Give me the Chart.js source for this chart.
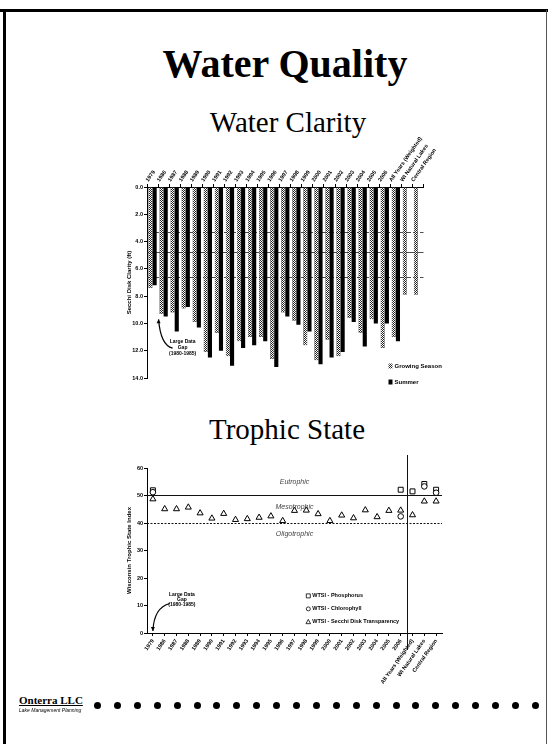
<!DOCTYPE html>
<html><head><meta charset="utf-8">
<script src="https://cdn.jsdelivr.net/npm/chart.js@4.4.1/dist/chart.umd.min.js"></script>
<style>
html,body{margin:0;padding:0;background:#fff;width:557px;height:744px;overflow:hidden;}
body{position:relative;font-family:"Liberation Serif",serif;color:#000}
.abs{position:absolute}
.title{position:absolute;text-align:center;white-space:nowrap}
canvas{position:absolute}
.dot{position:absolute;width:7px;height:7px;border-radius:50%;background:#000}
</style></head><body>
<div class="abs" style="left:3px;top:9px;width:3px;height:735px;background:#000"></div>
<div class="abs" style="left:0;top:9px;width:548px;height:3px;background:#000"></div>
<div class="abs" style="left:546px;top:10px;width:1px;height:734px;background:#555"></div>

<div class="title" style="left:135px;top:44px;width:300px;font:bold 40px/40px 'Liberation Serif',serif">Water Quality</div>
<div class="title" style="left:138px;top:108px;width:300px;font:29px/29px 'Liberation Serif',serif">Water Clarity</div>
<div class="title" style="left:137px;top:415px;width:300px;font:29px/29px 'Liberation Serif',serif">Trophic State</div>

<canvas id="clarity" width="332" height="270" style="left:126px;top:120px"></canvas>
<canvas id="trophic" width="340" height="270" style="left:126px;top:450px"></canvas>

<div class="abs" style="left:19px;top:694px;font:bold 11px/12px 'Liberation Serif',serif;text-decoration:underline">Onterra LLC</div>
<div class="abs" style="left:19px;top:707px;font:italic 5px/6px 'Liberation Sans',sans-serif">Lake Management Planning</div>
<div id="dots"></div>

<script>
// ---------- DATA ----------
const categories = ['1979','1986','1987','1988','1989','1990','1991','1992','1993','1994','1995','1996','1997','1998','1999','2000','2001','2002','2003','2004','2005','2006','All Years (Weighted)','WI Natural Lakes','Central Region'];
const growingSeasonSecchi = [7.4,9.3,9.2,8.9,9.9,12.1,10.7,12.4,11.3,11.0,11.0,12.6,9.2,9.8,11.6,12.7,11.2,12.4,9.6,10.7,9.7,11.8,11.0,7.9,7.9];
const summerSecchi = [7.2,9.5,10.6,8.8,10.3,12.5,12.0,13.1,11.8,11.6,11.3,13.2,9.5,10.1,10.6,13.0,12.5,12.1,9.9,11.7,10.0,10.0,11.3,null,null];
const secchiReferenceLines = [3.3,4.8,6.6];
const secchiTicks = [0,2,4,6,8,10,12,14];

const tsiPhosphorus = [51.9,null,null,null,null,null,null,null,null,null,null,null,null,null,null,null,null,null,null,null,null,52.1,51.5,54.2,52.1];
const tsiChlorophyll = [51.2,null,null,null,null,null,null,null,null,null,null,null,null,null,null,null,null,null,null,null,null,42.4,null,53.3,51.0];
const tsiSecchi = [48.7,45.1,45.1,45.7,43.6,41.7,43.4,41.2,41.5,42.0,42.5,40.8,44.5,44.6,43.3,40.8,42.8,41.8,44.7,42.2,44.5,44.6,42.9,47.9,47.9];
const tsiTicks = [0,10,20,30,40,50,60];
const trophicLines = [50,40];
const trophicLabels = ['Eutrophic','Mesotrophic','Oligotrophic'];
const summaryStartIndex = 22;

// ---------- decorations ----------
(function(){const d=document.getElementById('dots');for(let i=0;i<23;i++){const e=document.createElement('div');e.className='dot';e.style.left=(94+i*19.9)+'px';e.style.top='702px';d.appendChild(e);}})();

Chart.defaults.font.family="'Liberation Sans', Arial, sans-serif";
Chart.defaults.color='#000';
Chart.defaults.animation=false;

function hatchPattern(){
  const c=document.createElement('canvas');c.width=2;c.height=2;
  const x=c.getContext('2d');x.fillStyle='#fff';x.fillRect(0,0,2,2);
  x.fillStyle='#222';x.fillRect(0,0,1,1);x.fillRect(1,1,1,1);
  return x.createPattern(c,'repeat');
}
const hatch=hatchPattern();
function zeroPad(s){s.paddingLeft=0;s.paddingRight=0;s.paddingTop=0;s.paddingBottom=0;}

function drawArrow(ctx,pts,headUp){
  ctx.beginPath();ctx.moveTo(pts[0][0],pts[0][1]);
  ctx.quadraticCurveTo(pts[1][0],pts[1][1],pts[2][0],pts[2][1]);ctx.stroke();
  const [hx,hy]=pts[2];const d=headUp?-1:1;
  ctx.beginPath();ctx.moveTo(hx,hy);ctx.lineTo(hx-2,hy-4*d);ctx.lineTo(hx+2,hy-4*d);ctx.closePath();ctx.fill();
}

const clarityExtras={
  id:'clarityExtras',
  beforeDatasetsDraw(chart){
    const {ctx,chartArea:a,scales:{y}}=chart;
    ctx.save();ctx.strokeStyle='#222';ctx.lineWidth=0.8;
    secchiReferenceLines.forEach((v,i)=>{
      const py=Math.round(y.getPixelForValue(v))+0.5;
      ctx.setLineDash(i===1?[]:[5,2]);
      ctx.beginPath();ctx.moveTo(a.left,py);ctx.lineTo(a.right,py);ctx.stroke();
    });
    ctx.restore();
  },
  afterDatasetsDraw(chart){
    const {ctx,chartArea:a,scales:{x,y}}=chart;
    ctx.save();
    const gx=x.getPixelForValue(1);
    const ty=y.getPixelForValue(11.3);
    ctx.fillStyle='#000';ctx.font="bold 5px 'Liberation Sans'";ctx.textAlign='center';ctx.textBaseline='middle';
    ctx.fillText('Large Data',gx+19,ty);ctx.fillText('Gap',gx+19,ty+6);ctx.fillText('(1980-1985)',gx+19,ty+12);
    ctx.strokeStyle='#000';ctx.lineWidth=1.2;
    drawArrow(ctx,[[gx+9,ty+7],[gx-3,ty+4],[gx-5,y.getPixelForValue(9.7)]],true);
    const lx=a.right-35;
    const rows=[{ds:chart.data.datasets[0],y:a.bottom-12},{ds:chart.data.datasets[1],y:a.bottom+4}];
    ctx.textAlign='left';ctx.font="bold 6px 'Liberation Sans'";
    rows.forEach(r=>{
      ctx.fillStyle=r.ds.backgroundColor;ctx.fillRect(lx,r.y-2.5,4,5);
      ctx.fillStyle='#000';ctx.fillText(r.ds.label,lx+6,r.y);
    });
    ctx.restore();
  }
};

new Chart(document.getElementById('clarity'),{
  type:'bar',
  data:{labels:categories,datasets:[
    {label:'Growing Season',data:growingSeasonSecchi,backgroundColor:hatch,borderColor:'#000',borderWidth:0.5},
    {label:'Summer',data:summerSecchi,backgroundColor:'#000',borderColor:'#000',borderWidth:0}
  ]},
  options:{
    responsive:false,
    layout:{autoPadding:false,padding:{left:0,right:34.5,top:0,bottom:12}},
    plugins:{legend:{display:false},tooltip:{enabled:false}},
    datasets:{bar:{categoryPercentage:0.76,barPercentage:0.98}},
    scales:{
      x:{position:'top',offset:true,
        grid:{display:true,drawOnChartArea:false,tickLength:3,color:'#000'},
        border:{color:'#000',width:1},
        ticks:{autoSkip:false,minRotation:55,maxRotation:55,padding:1,font:{size:5.5,weight:'bold'}},
        afterFit(s){s.height=67;zeroPad(s);}},
      y:{reverse:true,min:secchiTicks[0],max:secchiTicks[secchiTicks.length-1],
        grid:{display:true,drawOnChartArea:false,tickLength:3,color:'#000'},
        border:{color:'#000',width:1},
        ticks:{stepSize:secchiTicks[1]-secchiTicks[0],padding:1,font:{size:5.5,weight:'bold'},callback:v=>v.toFixed(1)},
        title:{display:true,text:'Secchi Disk Clarity (ft)',padding:0,font:{size:6,weight:'bold'}},
        afterFit(s){s.width=21;zeroPad(s);}}
    }
  },
  plugins:[clarityExtras]
});

const trophicExtras={
  id:'trophicExtras',
  beforeDatasetsDraw(chart){
    const {ctx,chartArea:a,scales:{x,y}}=chart;
    ctx.save();ctx.strokeStyle='#111';ctx.lineWidth=1;
    trophicLines.forEach((v,i)=>{
      const py=Math.round(y.getPixelForValue(v))+0.5;
      ctx.setLineDash(i===0?[]:[2,1.5]);
      ctx.beginPath();ctx.moveTo(a.left,py);ctx.lineTo(a.right,py);ctx.stroke();
    });
    ctx.setLineDash([]);
    const vx=Math.round((x.getPixelForValue(summaryStartIndex-1)+x.getPixelForValue(summaryStartIndex))/2)+0.5;
    ctx.beginPath();ctx.moveTo(vx,a.top-13);ctx.lineTo(vx,a.bottom+17);ctx.stroke();
    const cx=(a.left+a.right)/2;
    const y50=y.getPixelForValue(trophicLines[0]),y40=y.getPixelForValue(trophicLines[1]);
    ctx.fillStyle='#444';ctx.font="italic 7px 'Liberation Sans'";ctx.textAlign='center';ctx.textBaseline='middle';
    ctx.fillText(trophicLabels[0],cx,y50-13);
    ctx.fillText(trophicLabels[1],cx,(y50+y40)/2-2);
    ctx.fillText(trophicLabels[2],cx,y40+11);
    ctx.restore();
  },
  afterDatasetsDraw(chart){
    const {ctx,chartArea:a,scales:{x,y}}=chart;
    ctx.save();
    const gx=x.getPixelForValue(0);
    const ty=y.getPixelForValue(14);
    ctx.fillStyle='#000';ctx.font="bold 5px 'Liberation Sans'";ctx.textAlign='center';ctx.textBaseline='middle';
    ctx.fillText('Large Data',gx+29,ty);ctx.fillText('Gap',gx+29,ty+5);ctx.fillText('(1980-1985)',gx+29,ty+10);
    ctx.strokeStyle='#000';ctx.lineWidth=1.2;
    drawArrow(ctx,[[gx+17,ty+9],[gx+1,ty+13],[gx,a.bottom-2]],false);
    const lx=x.getPixelForValue(13)+2;
    const ds=chart.data.datasets;
    const rows=[ds[2],ds[1],ds[0]];
    ctx.textAlign='left';ctx.font="bold 5.5px 'Liberation Sans'";
    rows.forEach((d,i)=>{
      const ry=y.getPixelForValue(13.5)+i*13;
      ctx.strokeStyle='#000';ctx.lineWidth=0.8;ctx.fillStyle='#fff';
      ctx.beginPath();
      if(d.pointStyle==='rect'){ctx.rect(lx-2,ry-2,4,4);}
      else if(d.pointStyle==='circle'){ctx.arc(lx,ry,2,0,Math.PI*2);}
      else {ctx.moveTo(lx,ry-2.5);ctx.lineTo(lx+2.3,ry+1.8);ctx.lineTo(lx-2.3,ry+1.8);ctx.closePath();}
      ctx.fill();ctx.stroke();
      ctx.fillStyle='#000';ctx.fillText(d.label,lx+4,ry);
    });
    ctx.restore();
  }
};

const ptBase={showLine:false,pointBackgroundColor:'#fff',pointBorderColor:'#000',pointBorderWidth:1,borderColor:'#000',backgroundColor:'#fff'};
new Chart(document.getElementById('trophic'),{
  type:'line',
  data:{labels:categories,datasets:[
    Object.assign({label:'WTSI - Secchi Disk Transparency',data:tsiSecchi,pointStyle:'triangle',pointRadius:3.5},ptBase),
    Object.assign({label:'WTSI - Chlorophyll',data:tsiChlorophyll,pointStyle:'circle',pointRadius:2.8},ptBase),
    Object.assign({label:'WTSI - Phosphorus',data:tsiPhosphorus,pointStyle:'rect',pointRadius:3.5},ptBase)
  ]},
  options:{
    responsive:false,
    layout:{autoPadding:false,padding:{left:0,right:24,top:18,bottom:0}},
    plugins:{legend:{display:false},tooltip:{enabled:false}},
    scales:{
      x:{offset:true,
        grid:{display:true,drawOnChartArea:false,tickLength:3,color:'#000'},
        border:{color:'#000',width:1},
        ticks:{autoSkip:false,minRotation:55,maxRotation:55,padding:2,font:{size:5.5,weight:'bold'}},
        afterFit(s){s.height=87;zeroPad(s);}},
      y:{min:tsiTicks[0],max:tsiTicks[tsiTicks.length-1],
        grid:{display:true,drawOnChartArea:false,tickLength:3,color:'#000'},
        border:{color:'#000',width:1},
        ticks:{stepSize:tsiTicks[1]-tsiTicks[0],padding:1,font:{size:5.5,weight:'bold'}},
        title:{display:true,text:'Wisconsin Trophic State Index',padding:0,font:{size:6,weight:'bold'}},
        afterFit(s){s.width=21;zeroPad(s);}}
    }
  },
  plugins:[trophicExtras]
});
</script>
</body></html>
